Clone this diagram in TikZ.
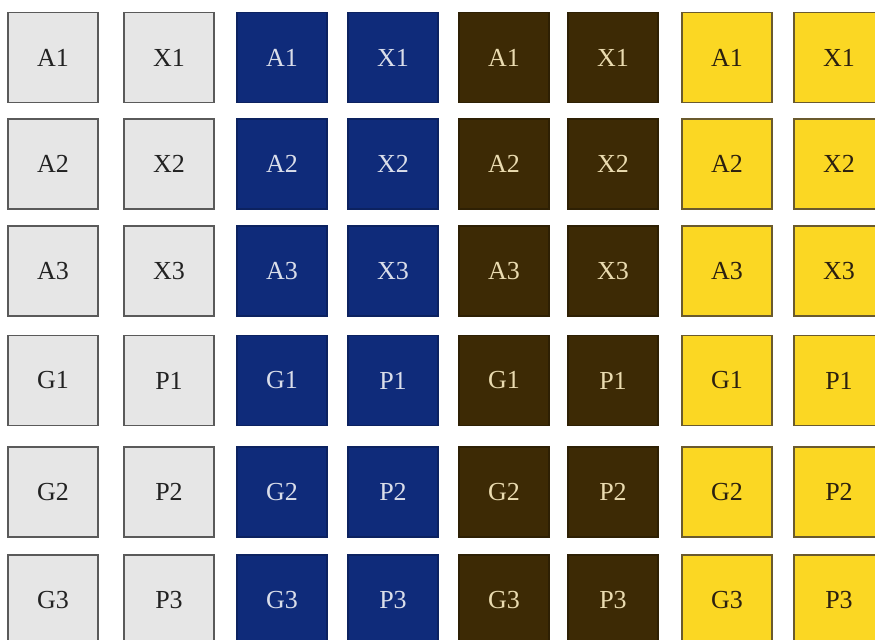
\documentclass[tikz,border=0pt]{standalone}
\usepackage{fontspec}
\setmainfont{Liberation Serif}
\usepackage{xcolor}
\definecolor{paleface}{HTML}{E6E6E6}
\definecolor{paleline}{HTML}{5A5A5A}
\definecolor{paletext}{HTML}{222222}
\definecolor{navy}{HTML}{0F2B7A}
\definecolor{navyline}{HTML}{0C2260}
\definecolor{navytext}{HTML}{DADEEA}
\definecolor{umber}{HTML}{3D2A05}
\definecolor{umberline}{HTML}{2E2004}
\definecolor{umbertext}{HTML}{EADBB0}
\definecolor{gold}{HTML}{FBD723}
\definecolor{goldline}{HTML}{6A5A2E}
\definecolor{goldtext}{HTML}{2B2010}
\tikzset{
  cell/.style={minimum width=45pt,minimum height=45pt,inner sep=0pt,line width=0.6pt,
    font=\fontsize{13}{15}\selectfont},
  graybox/.style={cell,fill=paleface,draw=paleline,text=paletext},
  bluebox/.style={cell,fill=navy,draw=navyline,text=navytext},
  brownbox/.style={cell,fill=umber,draw=umberline,text=umbertext},
  yellowbox/.style={cell,fill=gold,draw=goldline,text=goldtext},
}
\begin{document}
\begin{tikzpicture}[x=0.5pt,y=-0.5pt]
\useasboundingbox (0,0) rectangle (875,639);
% four colour sets, two columns each
\foreach \set/\xa/\xb in {graybox/53/169,bluebox/282/393,brownbox/504/613,yellowbox/727/839}{
  \foreach \la/\lb/\y in {A1/X1/57.5,A2/X2/164,A3/X3/271,G1/P1/380.5,G2/P2/492,G3/P3/600}{
    \node[\set] (\set-\la) at (\xa,\y) {\la};
    \node[\set] (\set-\lb) at (\xb,\y) {\lb};
  }
}
\end{tikzpicture}
\end{document}
